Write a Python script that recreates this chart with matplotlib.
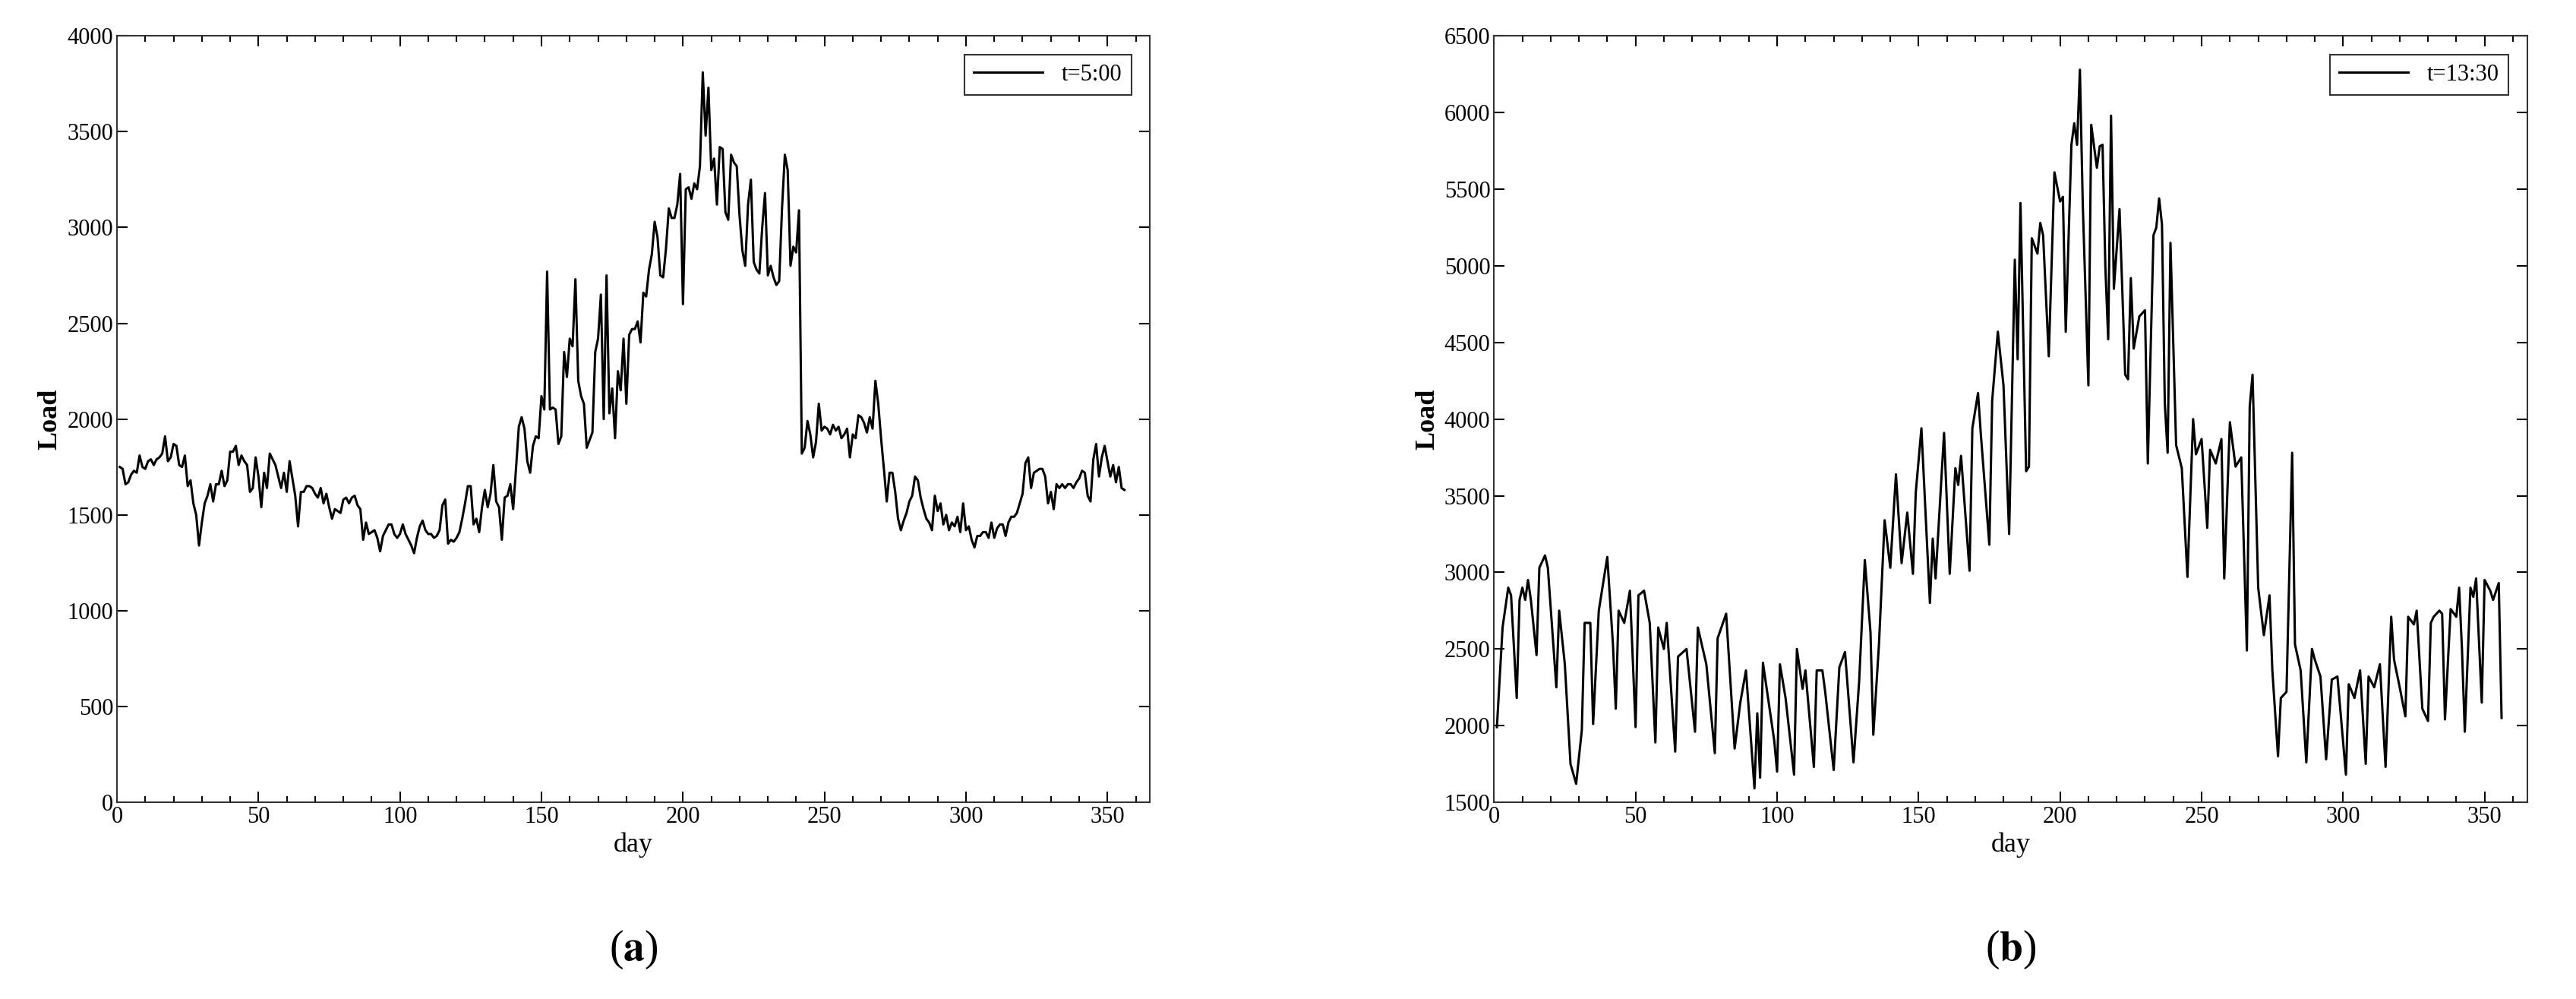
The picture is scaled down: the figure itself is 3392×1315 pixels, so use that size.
import matplotlib
matplotlib.use("Agg")
import matplotlib.pyplot as plt
import numpy as np
from matplotlib.ticker import MultipleLocator

load_a = [1750,1740,1660,1670,1710,1730,1720,1810,1750,1740,
1780,1790,1760,1790,1800,1820,1910,1780,1800,1870,
1860,1760,1750,1810,1650,1680,1560,1500,1340,1460,
1560,1600,1660,1570,1660,1660,1730,1650,1680,1830,
1830,1860,1760,1810,1780,1760,1620,1640,1800,1700,
1540,1720,1640,1820,1790,1760,1700,1640,1720,1620,
1780,1690,1600,1440,1620,1620,1650,1650,1640,1610,
1590,1640,1560,1610,1540,1480,1530,1520,1510,1580,
1590,1560,1590,1600,1550,1530,1370,1460,1400,1410,
1420,1380,1310,1390,1420,1450,1450,1400,1380,1400,
1450,1400,1370,1340,1300,1380,1440,1470,1420,1400,
1400,1380,1390,1420,1550,1580,1350,1370,1360,1380,
1410,1480,1560,1650,1650,1450,1480,1410,1540,1630,
1540,1610,1760,1570,1540,1370,1590,1600,1660,1530,
1740,1960,2010,1950,1780,1720,1860,1910,1900,2120,
2050,2770,2050,2060,2050,1870,1910,2350,2220,2420,
2380,2730,2200,2120,2080,1850,1890,1930,2350,2420,
2650,2000,2750,2030,2160,1900,2250,2150,2420,2080,
2440,2470,2470,2510,2400,2660,2640,2780,2860,3030,
2950,2750,2740,2890,3100,3050,3050,3120,3280,2600,
3200,3210,3150,3230,3200,3320,3810,3480,3730,3300,
3360,3120,3420,3410,3080,3040,3380,3340,3320,3060,
2880,2800,3120,3250,2820,2780,2760,3000,3180,2750,
2800,2740,2700,2720,3100,3380,3300,2800,2900,2870,
3090,1820,1850,1990,1920,1800,1880,2080,1940,1960,
1950,1920,1970,1940,1960,1900,1920,1950,1800,1920,
1900,2020,2010,1980,1930,2010,1950,2200,2080,1900,
1740,1570,1720,1720,1620,1480,1420,1470,1510,1570,
1600,1700,1680,1590,1530,1480,1460,1420,1600,1520,
1560,1450,1500,1420,1460,1440,1490,1410,1560,1420,
1440,1370,1330,1390,1390,1410,1410,1380,1460,1380,
1430,1450,1450,1390,1460,1490,1490,1510,1560,1610,
1770,1800,1640,1720,1730,1740,1740,1700,1560,1620,
1530,1660,1640,1660,1640,1660,1660,1640,1670,1690,
1730,1720,1600,1570,1790,1870,1700,1800,1860,1780,
1700,1760,1670,1750,1640,1630]
day_a = list(range(1, len(load_a) + 1))

day_b = [1,3,5,6,8,9,10,11,12,13,15,16,18,19,22,23,25,27,29,31,32,34,35,37,40,42,43,44,46,48,
50,51,53,55,57,58,60,61,64,65,68,71,72,75,78,79,82,85,87,89,92,93,94,95,99,100,101,103,106,107,
109,110,113,114,116,117,120,122,124,127,129,131,133,134,136,138,140,142,144,146,148,149,151,154,155,156,159,161,163,164,
165,168,169,171,172,175,176,178,180,182,184,185,186,188,189,190,192,193,194,196,198,200,201,202,204,205,206,207,208,210,
211,213,214,215,216,217,218,219,221,223,224,225,226,228,230,231,233,234,235,236,237,238,239,241,243,245,247,248,250,252,
253,255,257,258,260,262,264,266,267,268,270,272,274,275,277,278,280,282,283,285,287,289,290,292,294,296,298,301,302,304,
306,308,309,311,313,315,317,318,320,322,323,325,326,328,330,331,332,334,335,336,338,340,341,342,343,345,346,347,349,350,
352,353,355,356]
load_b = [1990,2640,2900,2850,2180,2820,2900,2820,2950,2820,2460,3030,3110,3030,2250,2750,2400,1750,1620,1970,2670,2670,2010,2750,3100,2530,2110,2750,2670,2880,
1990,2850,2880,2670,1890,2640,2500,2670,1830,2450,2500,1960,2640,2400,1820,2570,2730,1850,2150,2360,1590,2080,1660,2410,1900,1700,2400,2180,1680,2500,
2240,2360,1730,2360,2360,2220,1710,2380,2480,1760,2290,3080,2610,1940,2530,3340,3030,3640,3060,3390,2990,3520,3940,2800,3220,2960,3910,2990,3680,3570,
3760,3010,3940,4170,3900,3180,4120,4570,4220,3250,5040,4390,5410,3660,3690,5180,5080,5280,5200,4410,5610,5420,5450,4570,5790,5930,5790,6280,5410,4220,
5920,5640,5780,5790,4990,4520,5980,4850,5370,4290,4260,4920,4460,4670,4710,3710,5200,5250,5440,5270,4100,3780,5150,3830,3680,2970,4000,3770,3870,3290,
3800,3710,3870,2960,3980,3690,3750,2490,4080,4290,2900,2590,2850,2360,1800,2180,2220,3780,2530,2360,1760,2500,2430,2320,1780,2300,2320,1680,2270,2180,
2360,1750,2320,2250,2400,1730,2710,2430,2250,2060,2710,2660,2750,2110,2030,2670,2710,2750,2730,2040,2760,2710,2900,2500,1960,2900,2840,2960,2150,2950,
2880,2820,2930,2050]

plt.rcParams['font.family'] = ['Liberation Serif', 'DejaVu Serif']
plt.rcParams['mathtext.fontset'] = 'stix'
fig = plt.figure(figsize=(33.92, 13.15), dpi=100)

def panel(rect, x, y, ylim, ystep, label, tag):
    ax = fig.add_axes(rect)
    ax.plot(x, y, color='black', lw=2.2, label=label)
    ax.set_xlim(0, 365)
    ax.set_ylim(*ylim)
    ax.xaxis.set_major_locator(MultipleLocator(50))
    ax.xaxis.set_minor_locator(MultipleLocator(10))
    ax.yaxis.set_major_locator(MultipleLocator(ystep))
    ax.tick_params(direction='in', top=True, right=True, which='both', labelsize=22, width=1.5)
    ax.tick_params(which='major', length=10)
    ax.tick_params(which='minor', length=6)
    for s in ax.spines.values():
        s.set_linewidth(1.5); s.set_color('#333333')
    ax.set_xlabel('day', fontsize=26)
    ax.set_ylabel('Load', fontsize=26, fontweight='bold')
    leg = ax.legend(loc='upper right', fontsize=22, fancybox=False, edgecolor='black',
                    handlelength=3, borderaxespad=0.8)
    leg.get_frame().set_linewidth(1.5)
    ax.text(0.5, -0.165, tag, transform=ax.transAxes, ha='center', va='top', fontsize=40)
    return ax

panel([0.0454, 0.197, 0.401, 0.767], day_a, load_a, (0, 4000), 500, 't=5:00', r'($\mathbf{a}$)')
panel([0.580, 0.197, 0.401, 0.767], day_b, load_b, (1500, 6500), 500, 't=13:30', r'($\mathbf{b}$)')

fig.savefig('out.png', dpi=100)
